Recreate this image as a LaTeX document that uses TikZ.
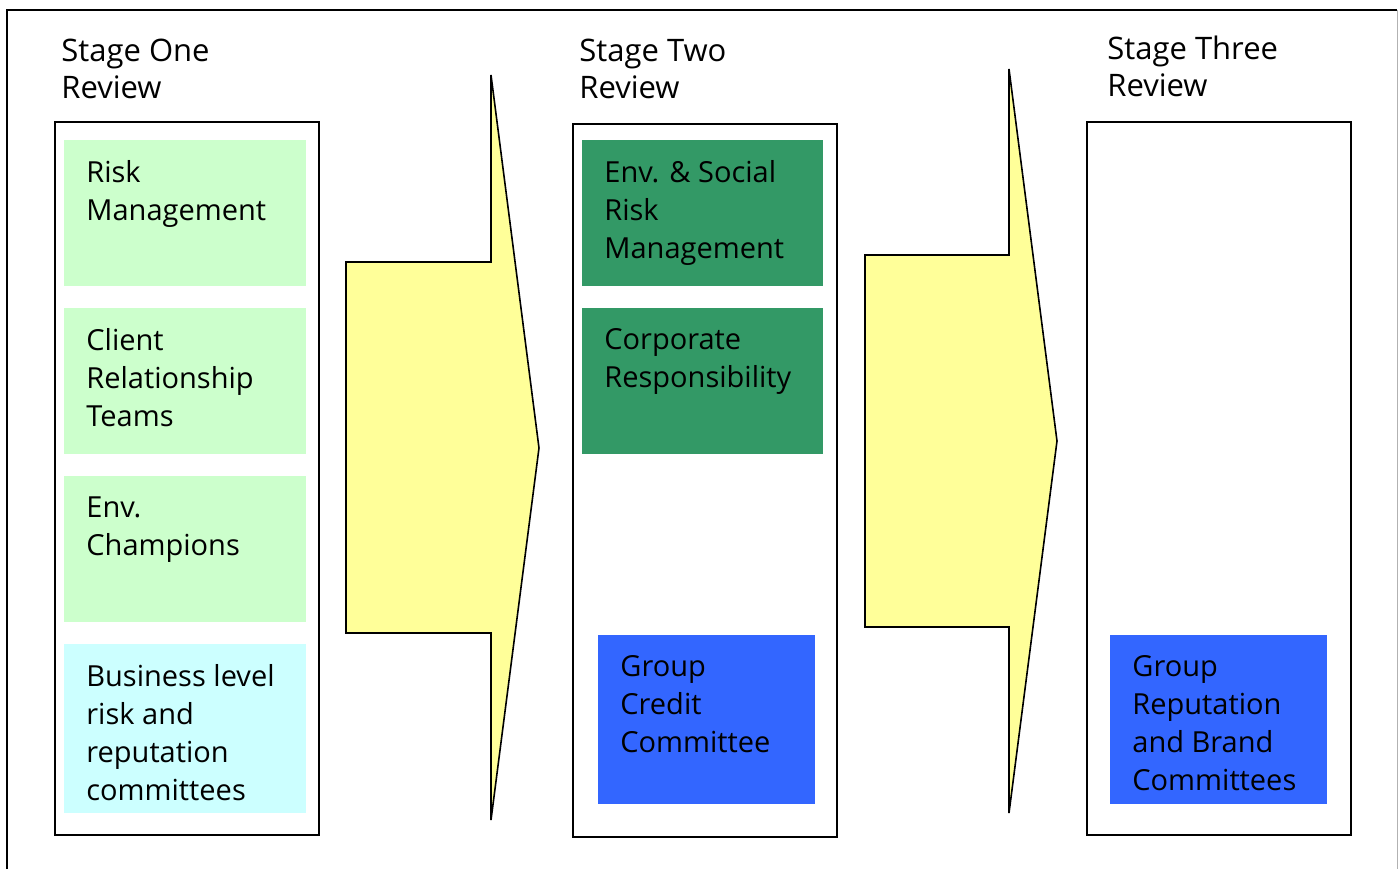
\documentclass[tikz,border=0pt]{standalone}
\usepackage{fontspec}
\setmainfont{Open Sans}
\usetikzlibrary{positioning}

\definecolor{cellgreen}{HTML}{CCFFCC}
\definecolor{cellcyan}{HTML}{CCFFFF}
\definecolor{darkcell}{HTML}{339966}
\definecolor{bluecell}{HTML}{3366FF}
\definecolor{arrowyellow}{HTML}{FFFF99}

\begin{document}
\begin{tikzpicture}[x=0.5pt, y=-0.5pt,
    stage_title/.style={anchor=north west, inner sep=0pt, align=left, font=\fontsize{15.5}{18.5}\selectfont},
    stage_box/.style={draw=black, line width=1pt, fill=white},
    stage_cell/.style={anchor=north west, inner xsep=11pt, inner ysep=10pt, font=\fontsize{14.5}{19}\selectfont},
    flow_arrow/.style={draw=black, line width=0.8pt, fill=arrowyellow, line join=miter}
]
\useasboundingbox (0,0) rectangle (1398,869);

% outer frame
\draw[line width=1pt] (7,869) -- (7,10) -- (1397,10);
\draw[gray!60, line width=0.5pt] (1397,10) -- (1397,869);

% stage one
\node[stage_title] (title1) at (61,39) {Stage One\\Review};
\draw[stage_box] (55,122) rectangle (319,835);
\node[stage_cell, fill=cellgreen] (risk) at (64,140) {\parbox[t][53pt][t]{99pt}{Risk\\Management}};
\node[stage_cell, fill=cellgreen] (client) at (64,308) {\parbox[t][53pt][t]{99pt}{Client\\Relationship\\Teams}};
\node[stage_cell, fill=cellgreen] (champ) at (64,476) {\parbox[t][53pt][t]{99pt}{Env.\\Champions}};
\node[stage_cell, fill=cellcyan] (business) at (64,644) {\parbox[t][64.5pt][t]{99pt}{Business level\\risk and\\reputation\\committees}};

% arrow one
\draw[flow_arrow] (346,262) -- (491,262) -- (491,75) -- (539,448) -- (491,820) -- (491,633) -- (346,633) -- cycle;

% stage two
\node[stage_title] (title2) at (579,39) {Stage Two\\Review};
\draw[stage_box] (573,124) rectangle (837,837);
\node[stage_cell, fill=darkcell] (social) at (582,140) {\parbox[t][53pt][t]{98.5pt}{Env. \& Social\\Risk\\Management}};
\node[stage_cell, fill=darkcell] (corp) at (582,308) {\parbox[t][53pt][t]{98.5pt}{Corporate\\Responsibility}};
\node[stage_cell, fill=bluecell] (credit) at (598,635) {\parbox[t][64.5pt][t]{86.5pt}{Group\\Credit\\Committee}};

% arrow two
\draw[flow_arrow] (865,255) -- (1009,255) -- (1009,69) -- (1057,441) -- (1009,813) -- (1009,627) -- (865,627) -- cycle;

% stage three
\node[stage_title] (title3) at (1107,36) {Stage Three\\Review};
\draw[stage_box] (1087,122) rectangle (1351,835);
\node[stage_cell, fill=bluecell] (brand) at (1110,635) {\parbox[t][64.5pt][t]{86.5pt}{Group\\Reputation\\and Brand\\Committees}};

\end{tikzpicture}
\end{document}
